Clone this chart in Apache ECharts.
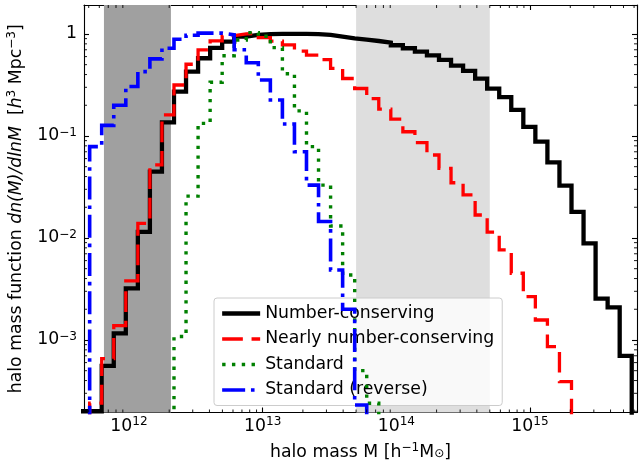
<!DOCTYPE html>
<html>
<head>
<meta charset="utf-8">
<script src="https://cdn.jsdelivr.net/npm/echarts@6/dist/echarts.min.js"></script>
<style>
html, body { margin: 0; padding: 0; background: #fff; }
#chart { width: 644px; height: 464px; }
</style>
</head>
<body>
<div id="chart"></div>
<script>
// log-spaced histogram bins: log10 of first left edge, bin width in dex
var binStart = 11.616;
var binWidth = 0.0901;

var names = ['Number-conserving', 'Nearly number-conserving', 'Standard', 'Standard (reverse)'];

// dn/dlnM per bin (0 = empty bin)
var numberConserving = [0.0002, 0.0002, 0.000556, 0.00116, 0.00321, 0.0115, 0.0447, 0.136, 0.272, 0.427,
  0.578, 0.73, 0.84, 0.94, 0.98, 0.995, 1.0, 1.0, 1.0, 0.995,
  0.978, 0.941, 0.907, 0.88, 0.853, 0.822, 0.775, 0.724, 0.670, 0.618,
  0.556, 0.489, 0.434, 0.365, 0.291, 0.240, 0.180, 0.123, 0.088, 0.0552,
  0.0326, 0.0180, 0.00887, 0.00254, 0.00209, 0.000697, 0];
var nearlyConserving = [0, 0.00024, 0.000656, 0.00138, 0.00379, 0.0139, 0.052, 0.161, 0.316, 0.505,
  0.697, 0.854, 0.965, 1.0, 1.02, 0.92, 0.85, 0.78, 0.68, 0.62,
  0.56, 0.46, 0.366, 0.292, 0.232, 0.183, 0.146, 0.110, 0.0859, 0.0651,
  0.0482, 0.0348, 0.0264, 0.0168, 0.0114, 0.00763, 0.00451, 0.00266, 0.00157, 0.00086,
  0.00039, 0];
var standard = [0, 0, 0, 0, 0, 0, 0, 0, 0.00108, 0.0257,
  0.133, 0.336, 0.612, 0.873, 1.03, 0.95, 0.734, 0.408, 0.176, 0.0786,
  0.033, 0.0131, 0.00434, 0.0005, 0.00024, 0];
var standardReverse = [0, 0.0786, 0.127, 0.20, 0.305, 0.427, 0.57, 0.724, 0.887, 0.97,
  1.02, 1.02, 0.98, 0.70, 0.523, 0.354, 0.225, 0.131, 0.070, 0.033,
  0.0145, 0.00485, 0.0020, 0.00023, 0];

// shaded mass ranges
var darkBand = [6.5e11, 2.06e12];
var lightBand = [5e13, 5e14];

var xRange = [4.61e11, 6.31e15];
var yRange = [1.945e-4, 1.923];

var FONT = 'DejaVu Sans';
var FS = 17.3;
var SUP = 12.1;
var EMPTY = 1e-6;

function steps(values) {
  var pts = values.map(function (v, i) {
    return [Math.pow(10, binStart + i * binWidth), v > 0 ? v : EMPTY];
  });
  var last = values[values.length - 1];
  pts.push([Math.pow(10, binStart + values.length * binWidth), last > 0 ? last : EMPTY]);
  return pts;
}

function isDecade(v) {
  var e = Math.log10(v);
  return Math.abs(e - Math.round(e)) < 1e-6;
}

var minorX = [], minorY = [];
for (var e = -5; e <= 16; e++) {
  for (var m = 2; m <= 9; m++) {
    var v = m * Math.pow(10, e);
    if (v > xRange[0] && v < xRange[1]) minorX.push([v, 1]);
    if (v > yRange[0] && v < yRange[1]) minorY.push([1e13, v]);
  }
}

var supRich = {
  b: { fontFamily: FONT, fontSize: FS, lineHeight: 18, padding: [4, 0, 0, 0], color: '#000' },
  bc: { fontFamily: FONT, fontSize: FS, lineHeight: 18, padding: [4, 0, 4, 0], color: '#000' },
  s: { fontFamily: FONT, fontSize: SUP, lineHeight: 12, verticalAlign: 'top', color: '#000' }
};

var nameRich = {
  n: { fontFamily: FONT, fontSize: FS, lineHeight: 18, padding: [4, 0, 1, 0], color: '#000' },
  i: { fontFamily: FONT, fontSize: FS, lineHeight: 18, padding: [4, 0, 1, 0], fontStyle: 'italic', color: '#000' },
  sup: { fontFamily: FONT, fontSize: SUP, lineHeight: 12, verticalAlign: 'top', color: '#000' },
  sub: { fontFamily: FONT, fontSize: SUP, lineHeight: 12, verticalAlign: 'bottom', color: '#000' }
};

function logAxis(range, pos) {
  return {
    type: 'log',
    logBase: 10,
    min: range[0],
    max: range[1],
    position: pos,
    axisLine: { show: true, onZero: false, lineStyle: { color: '#000', width: 1.1 } },
    axisTick: { show: true, inside: true, length: 5, lineStyle: { color: '#000', width: 1.1 } },
    splitLine: { show: false },
    minorTick: { show: false },
    axisLabel: { show: false }
  };
}

var xMain = logAxis(xRange, 'bottom');
xMain.axisLabel = {
  show: true,
  margin: 3,
  showMinLabel: false,
  showMaxLabel: false,
  rich: supRich,
  formatter: function (v) {
    if (!isDecade(v)) return '';
    return '{b|10}{s|' + Math.round(Math.log10(v)) + '}';
  }
};
xMain.name = '{n|halo mass M [h}{sup|\u22121}{n|M}{sub|\u2299}{n|]}';
xMain.nameLocation = 'middle';
xMain.nameGap = 25;
xMain.nameTextStyle = { fontFamily: FONT, fontSize: FS, color: '#000', rich: nameRich, verticalAlign: 'top' };

var yMain = logAxis(yRange, 'left');
yMain.axisLabel = {
  show: true,
  margin: 7,
  showMinLabel: false,
  showMaxLabel: false,
  rich: supRich,
  formatter: function (v) {
    if (!isDecade(v)) return '';
    var k = Math.round(Math.log10(v));
    if (k === 0) return '{bc|1}';
    return '{bc|10}{s|' + String(k).replace('-', '\u2212') + '}';
  }
};
yMain.name = '{n|halo mass function }{i|dn(M)/dlnM}{n|  [}{i|h}{sup|3}{n| Mpc}{sup|\u22123}{n|]}';
yMain.nameLocation = 'middle';
yMain.nameGap = 41;
yMain.nameRotate = 90;
yMain.nameTextStyle = { fontFamily: FONT, fontSize: FS, color: '#000', rich: nameRich };

function stepSeries(name, values, color, width, dash, z) {
  return {
    name: name,
    type: 'line',
    step: 'end',
    symbol: 'none',
    data: steps(values),
    lineStyle: { color: color, width: width, type: dash, join: 'miter', cap: 'butt' },
    itemStyle: { color: color },
    z: z
  };
}

function tickLine(x1, y1, x2, y2) {
  return { type: 'line', shape: { x1: x1, y1: y1, x2: x2, y2: y2 }, style: { stroke: '#000', lineWidth: 0.9 } };
}

var chart = echarts.init(document.getElementById('chart'), null, { renderer: 'canvas' });
var option = {
  animation: false,
  backgroundColor: '#fff',
  textStyle: { fontFamily: FONT },
  grid: { left: 84, right: 7, top: 5, bottom: 51.5, outerBoundsMode: 'none' },
  xAxis: [xMain, logAxis(xRange, 'top')],
  yAxis: [yMain, logAxis(yRange, 'right')],
  legend: {
    orient: 'vertical',
    left: 214,
    top: 298,
    data: names,
    itemWidth: 38,
    itemHeight: 14,
    itemGap: 8.5,
    itemTextGap: 18,
    padding: [7, 8, 7, 6],
    itemStyle: { opacity: 0 },
    lineStyle: { width: 'inherit' },
    backgroundColor: 'rgba(255,255,255,0.8)',
    borderColor: '#cccccc',
    borderWidth: 1,
    borderRadius: 3,
    textStyle: { fontFamily: FONT, fontSize: FS, color: '#000' }
  },
  series: [
    {
      name: 'bands',
      type: 'line',
      data: [],
      silent: true,
      z: 1,
      markArea: {
        silent: true,
        itemStyle: { opacity: 1 },
        data: [
          [{ xAxis: darkBand[0], itemStyle: { color: '#a0a0a0' } }, { xAxis: darkBand[1] }],
          [{ xAxis: lightBand[0], itemStyle: { color: '#dedede' } }, { xAxis: lightBand[1] }]
        ]
      }
    },
    stepSeries(names[0], numberConserving, '#000000', 4.3, 'solid', 3),
    stepSeries(names[1], nearlyConserving, '#ff0000', 3.3, [20.7, 8.7], 4),
    stepSeries(names[2], standard, '#008000', 3.4, [3.4, 6.4], 5),
    stepSeries(names[3], standardReverse, '#0000ff', 3.6, [23, 5.8, 3.6, 5.8], 6),
    {
      type: 'custom',
      silent: true,
      z: 10,
      data: minorX,
      renderItem: function (params, api) {
        var cs = params.coordSys;
        var x = api.coord([api.value(0), api.value(1)])[0];
        return { type: 'group', children: [
          tickLine(x, cs.y + cs.height, x, cs.y + cs.height - 3),
          tickLine(x, cs.y, x, cs.y + 3)
        ] };
      }
    },
    {
      type: 'custom',
      silent: true,
      z: 10,
      data: minorY,
      renderItem: function (params, api) {
        var cs = params.coordSys;
        var y = api.coord([api.value(0), api.value(1)])[1];
        return { type: 'group', children: [
          tickLine(cs.x, y, cs.x + 3, y),
          tickLine(cs.x + cs.width, y, cs.x + cs.width - 3, y)
        ] };
      }
    }
  ]
};
chart.setOption(option);
</script>
</body>
</html>
